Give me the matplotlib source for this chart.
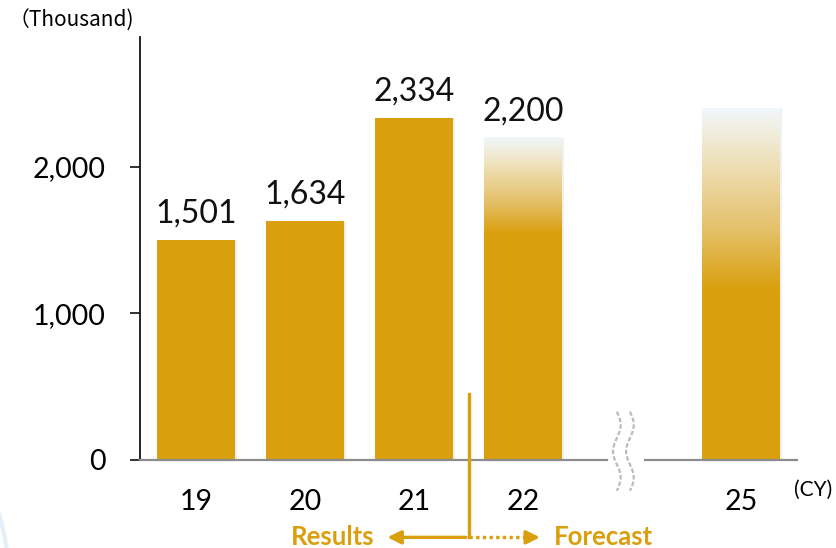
import numpy as np
import matplotlib
matplotlib.use("Agg")
import matplotlib.pyplot as plt
from matplotlib.colors import LinearSegmentedColormap
from matplotlib.patches import Circle

plt.rcParams['font.family'] = ['Lato', 'DejaVu Sans']

years = ["19", "20", "21", "22", "25"]
positions = [0, 1, 2, 3, 5]
values = [1501, 1634, 2334, 2200, 2400]
labels = ["1,501", "1,634", "2,334", "2,200", None]
faded_share = [0, 0, 0, 0.30, 0.52]   # top share of each bar that fades out
yticks = [0, 1000, 2000]
ytick_labels = ["0", "1,000", "2,000"]

gold = "#DA9F0D"

fig = plt.figure(figsize=(8.36, 5.48), dpi=100)
ax = fig.add_axes([0.1675, 0.1606, 0.7855, 0.7719])

width = 0.715
fade_cmap = LinearSegmentedColormap.from_list("fade", ["#F2F7FB", "#EEDDB0", "#E4C068", gold])

for pos, val, lab, share in zip(positions, values, labels, faded_share):
    # soft shadow behind the bar
    ax.bar(pos + 0.02, val, width=width, color="#000000", alpha=0.06, zorder=1)
    if share == 0:
        ax.bar(pos, val, width=width, color=gold, zorder=2)
    else:
        solid_top = val * (1 - share)
        ax.bar(pos, solid_top, width=width, color=gold, zorder=2)
        grad = np.linspace(0, 1, 256).reshape(-1, 1)
        ax.imshow(grad, cmap=fade_cmap, vmin=0, vmax=1, aspect="auto",
                  extent=(pos - width / 2, pos + width / 2, solid_top, val),
                  origin="upper", zorder=2, interpolation="bilinear")
    if lab:
        ax.annotate(lab, (pos, val), xytext=(0, 8), textcoords="offset points",
                    ha="center", va="bottom", fontsize=23, color="#111111")

ax.set_xlim(-0.514, 5.51)
ax.set_ylim(0, 2887)

for s in ["top", "right", "bottom"]:
    ax.spines[s].set_visible(False)
ax.spines["left"].set_color("#111111")
ax.spines["left"].set_linewidth(1.3)

ax.set_yticks(yticks)
ax.set_yticklabels(ytick_labels, fontsize=20.5)
ax.tick_params(axis="y", length=7, width=1.2, color="#111111", pad=18)

ax.set_xticks(positions)
ax.set_xticklabels(years, fontsize=20.5)
ax.tick_params(axis="x", length=0, pad=21)

# baseline with a gap for the axis break
ax.plot([-0.514, 3.77], [0, 0], color="#8C8C8C", lw=1.6, zorder=3, clip_on=False)
ax.plot([4.12, 5.51], [0, 0], color="#8C8C8C", lw=1.6, zorder=3, clip_on=False)

# wavy break marks
t = np.linspace(0, 1, 60)
for dx in (0.0, 0.12):
    xs = 3.86 + dx + 0.035 * np.sin(t * 2 * np.pi * 1.5)
    ys = 330 - t * 540
    ax.plot(xs, ys, color="#BBBBBB", lw=1.6, ls=(0, (2, 1)), clip_on=False, zorder=4)

# unit labels
fig.text(0.010, 0.962, "\uff08Thousand)", fontsize=15, ha="left", va="center",
         family=["Noto Sans CJK JP", "DejaVu Sans"])
fig.text(0.950, 0.107, "(CY)", fontsize=15, ha="left", va="center")

# results / forecast divider
ya = -528
ax.plot([2.5, 2.5], [450, ya], color=gold, lw=2.4, clip_on=False, zorder=4)
ax.annotate("", xy=(1.73, ya), xytext=(2.5, ya),
            arrowprops=dict(arrowstyle="-|>", color=gold, lw=2.4, mutation_scale=20),
            annotation_clip=False)
ax.plot([2.5, 3.05], [ya, ya], color=gold, lw=2.4, ls=(0, (1, 1)), clip_on=False)
ax.annotate("", xy=(3.18, ya), xytext=(3.04, ya),
            arrowprops=dict(arrowstyle="-|>", color=gold, lw=2.4, mutation_scale=20),
            annotation_clip=False)
ax.text(1.64, ya, "Results", color=gold, fontsize=18.5, fontweight="bold",
        ha="right", va="center", clip_on=False)
ax.text(3.28, ya, "Forecast", color=gold, fontsize=18.5, fontweight="bold",
        ha="left", va="center", clip_on=False)

# faint decorative arc in the lower-left corner
fig.patches.append(Circle((-0.55, -0.05), 0.56, transform=fig.transFigure,
                          fill=False, ec="#E3EFF9", lw=3, zorder=0))

fig.savefig("out.png", dpi=100)
